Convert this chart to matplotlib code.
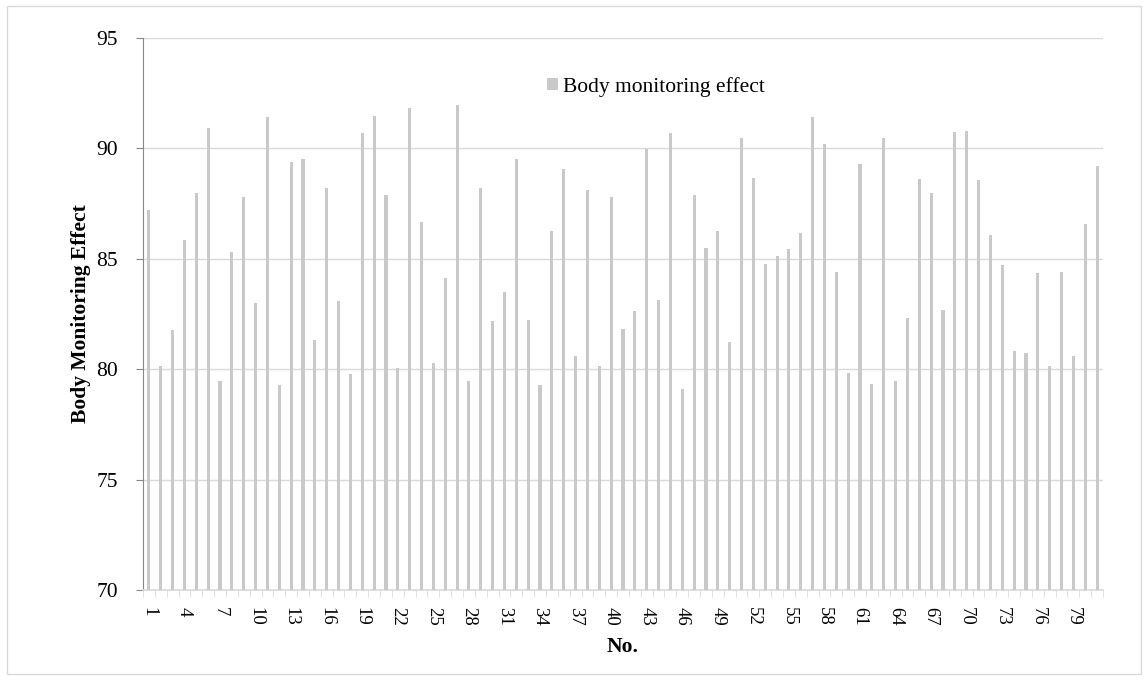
import matplotlib
matplotlib.use("Agg")
import matplotlib.pyplot as plt
from matplotlib.patches import Patch, Rectangle
import numpy as np

plt.rcParams['font.family'] = ['Liberation Serif', 'DejaVu Serif']

categories = list(range(1, 82))
values = [
    87.21, 80.16, 81.76, 85.86, 87.99, 90.92, 79.48, 85.32, 87.80, 83.01,
    91.43, 79.28, 89.37, 89.53, 81.32, 88.22, 83.09, 79.78, 90.71, 91.48,
    87.87, 80.05, 91.84, 86.66, 80.26, 84.13, 91.96, 79.45, 88.19, 82.20,
    83.51, 89.50, 82.23, 79.30, 86.27, 89.06, 80.62, 88.13, 80.14, 87.78,
    81.82, 82.63, 89.97, 83.12, 90.71, 79.09, 87.90, 85.50, 86.27, 81.23,
    90.47, 88.67, 84.78, 85.12, 85.43, 86.15, 91.43, 90.21, 84.40, 79.84,
    89.28, 79.31, 90.48, 79.46, 82.30, 88.61, 87.96, 82.68, 90.75, 90.79,
    88.58, 86.07, 84.72, 80.82, 80.72, 84.37, 80.16, 84.38, 80.59, 86.57,
    89.21,
]
series_name = "Body monitoring effect"
y_ticks = [70, 75, 80, 85, 90, 95]
x_label = "No."
y_label = "Body Monitoring Effect"

bar_color = "#c9c9c9"
grid_color = "#d9d9d9"

fig = plt.figure(figsize=(11.48, 6.8), dpi=100)
fig.patches.append(Rectangle((0.006, 0.009), 0.988, 0.982, transform=fig.transFigure,
                             fill=False, edgecolor="#d9d9d9", linewidth=1.0))
ax = fig.add_axes([143/1148, 1 - 590/680, (1103-143)/1148, (590-38)/680])

x = np.arange(len(categories))
ax.bar(x, values, width=0.26, color=bar_color, zorder=3)

ax.set_xlim(-0.5, len(categories) - 0.5)
ax.set_ylim(70, 95)
ax.set_yticks(y_ticks)
ax.set_yticklabels([str(t) for t in y_ticks], fontsize=15.5)
ax.yaxis.grid(True, color=grid_color, linewidth=1.0, zorder=0)
ax.set_axisbelow(True)

major_pos = x[::3]
ax.set_xticks(major_pos)
ax.set_xticklabels([str(categories[i]) for i in major_pos], rotation=270, fontsize=13.5)
ax.set_xticks(np.arange(-0.5, len(categories) + 0.5, 1.0), minor=True)
ax.tick_params(axis='x', which='major', length=0, pad=12)
ax.tick_params(axis='x', which='minor', length=5, color=grid_color, direction='out')
ax.tick_params(axis='y', length=5, color="#888888", direction='out', pad=13)

for s in ['top', 'right']:
    ax.spines[s].set_visible(False)
ax.spines['left'].set_color("#888888")
ax.spines['bottom'].set_color(grid_color)
ax.spines['bottom'].set_linewidth(1.2)

ax.set_xlabel(x_label, fontsize=15.5, fontweight='bold', labelpad=8)
ax.set_ylabel(y_label, fontsize=15.5, fontweight='bold', labelpad=4)

handle = Patch(facecolor=bar_color, edgecolor='none')
ax.legend([handle], [series_name], loc='center left', bbox_to_anchor=(404/960, 1 - 49/552),
          frameon=False, fontsize=15.5, handlelength=0.5, handleheight=0.5,
          handletextpad=0.25, borderaxespad=0, borderpad=0)

fig.savefig("out.png", dpi=100, facecolor="white")
